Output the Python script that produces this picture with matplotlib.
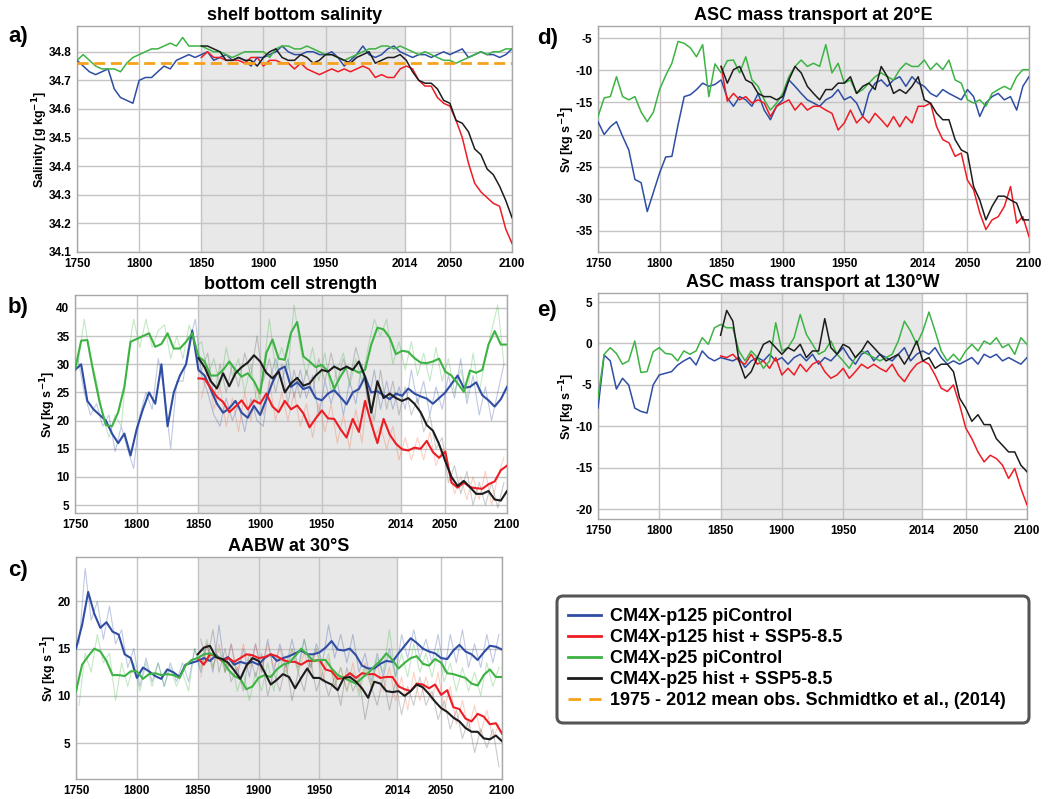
# -*- coding: utf-8 -*-
#
#   Southern Ocean diagnostics: piControl vs hist + SSP5-8.5 (CM4X).
#

import matplotlib
matplotlib.use('Agg')
import matplotlib.pyplot as plt
from matplotlib.lines import Line2D
from matplotlib.patches import FancyBboxPatch
import numpy as np


# 5-yearly samples
years_pi = np.arange(1750, 2101, 5)
years_hist = np.arange(1850, 2101, 5)
# the faint annual traces in b) and c), sampled between the 5-yr points
years_pi_raw = np.arange(1752.5, 2100, 5)
years_hist_raw = np.arange(1852.5, 2100, 5)

xticks = [1750, 1800, 1850, 1900, 1950, 2014, 2050, 2100]

# a) shelf bottom salinity [g/kg]
sal_p125_pi = [34.77, 34.75, 34.73, 34.72, 34.73, 34.74, 34.67, 34.64, 34.63, 34.62,
               34.70, 34.71, 34.71, 34.73, 34.75, 34.74, 34.77, 34.78, 34.79, 34.78,
               34.79, 34.80, 34.77, 34.78, 34.79, 34.77, 34.78, 34.77, 34.75, 34.78,
               34.78, 34.79, 34.80, 34.82, 34.80, 34.79, 34.79, 34.80, 34.80, 34.79,
               34.79, 34.80, 34.78, 34.75, 34.77, 34.79, 34.82, 34.79, 34.78, 34.79,
               34.81, 34.82, 34.80, 34.79, 34.78, 34.79, 34.79, 34.78, 34.79, 34.80,
               34.79, 34.80, 34.81, 34.78, 34.79, 34.80, 34.79, 34.79, 34.78, 34.79,
               34.81]
sal_p25_pi = [34.77, 34.79, 34.77, 34.75, 34.74, 34.74, 34.74, 34.73, 34.76, 34.78,
              34.79, 34.80, 34.81, 34.81, 34.82, 34.83, 34.82, 34.85, 34.82, 34.82,
              34.82, 34.81, 34.80, 34.80, 34.79, 34.78, 34.79, 34.80, 34.80, 34.80,
              34.80, 34.78, 34.81, 34.82, 34.82, 34.81, 34.81, 34.82, 34.81, 34.80,
              34.79, 34.79, 34.78, 34.77, 34.78, 34.79, 34.80, 34.81, 34.81, 34.82,
              34.82, 34.81, 34.82, 34.81, 34.80, 34.79, 34.80, 34.79, 34.78, 34.77,
              34.77, 34.76, 34.77, 34.78, 34.79, 34.80, 34.79, 34.80, 34.80, 34.81,
              34.81]
sal_p125_ssp = [34.78, 34.80, 34.78, 34.78, 34.77, 34.77, 34.77, 34.76, 34.78, 34.78,
                34.75, 34.77, 34.77, 34.76, 34.76, 34.74, 34.76, 34.74, 34.73, 34.72,
                34.73, 34.74, 34.73, 34.74, 34.73, 34.74, 34.75, 34.74, 34.71, 34.72,
                34.71, 34.71, 34.74, 34.75, 34.74, 34.70, 34.68, 34.68, 34.64, 34.62,
                34.61, 34.56, 34.50, 34.41, 34.34, 34.31, 34.29, 34.27, 34.26, 34.18,
                34.13]
sal_p25_ssp = [34.82, 34.82, 34.81, 34.80, 34.77, 34.77, 34.78, 34.77, 34.77, 34.75,
               34.78, 34.80, 34.81, 34.78, 34.77, 34.77, 34.79, 34.78, 34.76, 34.77,
               34.79, 34.79, 34.78, 34.77, 34.76, 34.78, 34.79, 34.80, 34.76, 34.77,
               34.78, 34.78, 34.79, 34.77, 34.73, 34.70, 34.69, 34.69, 34.67, 34.63,
               34.62, 34.56, 34.55, 34.52, 34.46, 34.44, 34.39, 34.37, 34.33, 34.28,
               34.22]
sal_obs = 34.76

# b) bottom cell strength [Sv]
cell_p125_pi = [29, 30, 23.5, 22, 21, 20, 17.7, 16, 17.7, 13.8,
                18.5, 22, 25, 23, 30, 19, 25, 28, 30, 36,
                29, 28, 25.5, 23, 21.4, 22.2, 23.5, 21.4, 20.5, 22.6,
                21, 23.8, 26.8, 29, 29.6, 26, 26.8, 25.6, 26, 24,
                23.6, 24.8, 25.4, 24.2, 22.9, 25, 25.6, 27.8, 25, 25.2,
                24.5, 23.8, 24.8, 24.4, 25.7, 24.8, 24.3, 23.9, 23, 24,
                25, 26.5, 28, 25.8, 26, 26.8, 24.5, 23.6, 22.5, 23.8,
                26]
cell_p25_pi = [29, 34.2, 34.3, 28.5, 23.2, 19.2, 19, 21.5, 26, 34,
               34.5, 35, 35.5, 33.1, 33.6, 35.5, 32.8, 32.8, 34, 35.5,
               31.4, 30.5, 28, 28, 29, 30.5, 29, 27.8, 28.4, 27,
               24.8, 32, 34.4, 31, 30.8, 35.6, 37.5, 31.4, 30.5, 29.5,
               29.9, 28.7, 25.7, 27.8, 29.5, 29.1, 28.5, 29, 33.5, 36.5,
               36.2, 34.7, 31.8, 32.4, 32.2, 31.1, 30.3, 30.2, 30.5, 31,
               28.7, 28, 26.6, 25.1, 28.9, 28.5, 29, 33.5, 35.9, 33.5,
               33.5]
cell_p125_ssp = [27.5, 27.4, 25.8, 24.2, 23.3, 21.5, 22.5, 23.6, 22, 23.6,
                 23, 24.8, 22.5, 21.5, 23.5, 22, 22.7, 21.3, 18.8, 20.4,
                 21.8, 20.4, 20.3, 18.5, 17, 20.3, 18, 23.5, 19.5, 16,
                 20.3, 17.5, 15.9, 14.9, 14.7, 15.2, 15, 16.4, 14.4, 13.4,
                 14.5, 9, 8.1, 9, 8.2, 8, 7.9, 8.7, 9.2, 11.2,
                 12]
cell_p25_ssp = [31.1, 29.5, 27, 25.7, 28.4, 26.1, 28.4, 29.5, 30.3, 31.6,
                30.5, 28.5, 27.5, 28.7, 25, 26.6, 27.6, 26.2, 26.6, 28,
                29, 28.7, 29.6, 29, 29.6, 29, 30.5, 27.8, 21.4, 27,
                24, 24.8, 24, 23.5, 24, 23, 21.5, 19.2, 18.2, 15.8,
                12.8, 10, 8.4, 9.3, 8.2, 7, 7, 7.5, 6, 5.8,
                7.5]
cell_p125_pi_raw = [31, 25, 21, 23, 19, 21, 14.5, 19, 15, 11.5,
                    21, 25, 22, 31, 25, 15, 27, 27, 34, 38,
                    28, 25, 21, 19, 24, 20, 23, 18, 24, 20,
                    19, 27, 31, 27, 31, 24, 29, 24, 28, 21,
                    27, 23, 27, 21, 27, 23, 30, 23, 29, 22,
                    27, 22, 26, 22, 29, 23, 27, 21, 26, 22,
                    28, 24, 31, 23, 28, 21, 26, 20, 25, 30]
cell_p25_pi_raw = [30, 38, 31, 27, 21, 17, 21, 19, 31, 38,
                   33, 38, 33, 36, 37, 31, 35, 31, 37, 33,
                   34, 28, 31, 26, 33, 28, 31, 25, 30, 23,
                   29, 38, 29, 33, 29, 40.5, 33, 28, 33, 27,
                   32, 25, 29, 32, 26, 31, 27, 33, 38, 35,
                   38, 30, 34, 29, 34, 28, 32, 27, 33, 27,
                   31, 25, 29, 24, 32, 25, 31, 36, 40.5, 30]
cell_p125_ssp_raw = [24, 29, 22, 26, 19, 24, 18, 25, 20, 26,
                     21, 27, 20, 25, 20, 25, 19, 23, 17, 23,
                     18, 23, 16, 21, 15, 22, 16, 26, 17, 19,
                     15, 19, 13, 17, 13, 17, 13, 18, 12, 15,
                     12, 7, 10, 6, 10, 6, 11, 5, 10, 13.5]
cell_p25_ssp_raw = [29, 32, 24, 30, 25, 30, 26, 32, 28, 35,
                    27, 31, 25, 30, 23, 29, 24, 29, 25, 31,
                    27, 32, 27, 31, 27, 33, 29, 25, 20, 29,
                    22, 27, 21, 26, 21, 24, 18, 21, 15, 17,
                    9, 12, 7, 11, 5, 9, 5, 9, 4.5, 9]

# c) AABW at 30S [Sv]
aabw_p125_pi = [15, 17.5, 21, 18.7, 17.2, 17.8, 16.8, 16.5, 14.4, 14,
                11.9, 13, 12.6, 12.1, 11.8, 12.8, 12.5, 12, 13.3, 13.5,
                13.7, 14, 13.7, 14.3, 13.8, 14.1, 13.3, 13.6, 13.4, 13.6,
                13.3, 14, 14.4, 13.7, 14, 14.2, 14.5, 14.8, 14.4, 14.4,
                14.6, 15.1, 15.8, 14.9, 14.8, 15, 14.3, 13.2, 12.9, 12.9,
                13.4, 13.7, 13.6, 14.5, 15.3, 16.1, 15.6, 15, 14.7, 14.5,
                14, 13.9, 14.8, 15.4, 14.7, 14.4, 13.8, 14.6, 15.3, 15.2,
                14.9]
aabw_p25_pi = [10.5, 13.3, 14.2, 15, 14.7, 13.7, 12.2, 12.2, 12.1, 12.6,
               12.6, 11.8, 12.3, 12.4, 12.2, 12.3, 12.2, 11.9, 13.2, 13.8,
               14, 14.4, 14.5, 14.2, 13.8, 12.8, 12.1, 11.8, 10.7, 11,
               11.9, 12.2, 12, 12.8, 13.3, 13.5, 14.2, 15, 14.4, 13.7,
               13.8, 13.8, 12.9, 12.2, 11.9, 11.6, 11.3, 11.9, 12.4, 13.1,
               13.7, 14.5, 13.8, 12.9, 13.5, 14, 14.2, 13.4, 13.2, 13.9,
               13.5, 12.4, 12.3, 12.1, 11.9, 11.3, 11.1, 12.2, 12.8, 12,
               12]
aabw_p125_ssp = [14, 13.3, 14.4, 14.2, 13.7, 14, 13.6, 14, 14.4, 14.3,
                 14, 14.1, 14.4, 14.2, 13.8, 13.6, 13.6, 13.3, 13.7, 13.7,
                 13.8, 12.8, 12.6, 11.8, 11.9, 12.4, 11.9, 12.4, 12.3, 12.3,
                 11.9, 12, 12, 11, 10.7, 10.5, 11.3, 11.2, 10.8, 11.2,
                 10.1, 10.6, 8.8, 8.6, 7.6, 7.3, 8.1, 7.8, 7, 7.1,
                 6]
aabw_p25_ssp = [14.4, 15.1, 15.3, 14.1, 13.9, 13.5, 12.7, 11.8, 13.2, 14,
                13.7, 12.5, 11.2, 11.7, 12.3, 12, 10.8, 11.9, 12.9, 11.9,
                11.9, 11.5, 11.2, 10.6, 11.9, 12, 11.5, 10.8, 9.8, 11.5,
                11.3, 10.5, 10.4, 10.5, 10, 10.5, 11.2, 10.9, 10.2, 9.4,
                8.7, 8.3, 7.7, 7.3, 6.6, 6.2, 6.2, 5.5, 5.4, 5.8,
                5.2]
aabw_p125_pi_raw = [15.5, 23.5, 18, 20, 16, 19.5, 15.5, 17, 13, 15,
                    11, 14, 11.5, 13.5, 11, 13.5, 11.5, 13.5, 11.5, 15,
                    12.5, 15.5, 12.5, 17.5, 12.5, 15.5, 12, 15, 12, 15.5,
                    12.5, 16, 12.5, 15.5, 13, 16, 13, 16, 13, 15.5,
                    13.5, 17.5, 14, 16.5, 13.5, 16.5, 12.5, 14.5, 11.5, 14.5,
                    12, 15, 12, 16.5, 14, 17, 14, 16, 13.5, 16.5,
                    12.5, 16.5, 13.5, 17, 13, 15.5, 13, 16.5, 13.5, 16.5]
aabw_p25_pi_raw = [9, 14.5, 12.5, 16.5, 13.5, 14.5, 9.5, 13.5, 11, 13.5,
                   10.5, 13.5, 11, 13.5, 11, 13, 11, 12.5, 10.5, 15,
                   13, 16, 13, 15, 12.5, 14, 10.5, 12.5, 9.5, 12.5,
                   10.5, 13.5, 10.5, 14, 12, 15, 12.5, 16, 13, 15,
                   12.5, 14.5, 11, 13, 10.5, 12.5, 10, 13, 11, 14,
                   12.5, 17, 12, 14.5, 12, 15.5, 12.5, 14.5, 12, 15,
                   11.5, 13.5, 10.5, 13, 10.5, 12.5, 10, 13.5, 11, 13]
aabw_p125_ssp_raw = [12, 15.5, 13, 15.5, 12.5, 15.5, 12.5, 15.5, 13, 15.5,
                     12.5, 15.5, 13, 15, 12.5, 15, 12.5, 14.5, 12.5, 15,
                     11.5, 14, 11, 13, 10.5, 13.5, 10.5, 13.5, 11, 13.5,
                     10.5, 13, 9.5, 12, 8.5, 12.5, 9.5, 12, 9.5, 12.5,
                     8.5, 11, 7, 9.5, 6.5, 9, 6, 8.5, 5.5, 7]
aabw_p25_ssp_raw = [16, 13.5, 17, 12.5, 15, 11.5, 13, 10.5, 14.5, 12,
                    14.5, 10, 12.5, 10.5, 13.5, 9.5, 12.5, 10.5, 14, 10.5,
                    12.5, 10, 12, 9, 13, 10.5, 12, 7.5, 11, 9,
                    12, 8.5, 11.5, 8, 11, 9, 12, 9, 10.5, 7.5,
                    9.5, 6.5, 8.5, 5.5, 7.5, 4, 6.5, 4.5, 6.5, 2.5]

# d) ASC mass transport at 20E [Sv]
asc20_p125_pi = [-18, -20, -18.8, -18, -20.3, -22.4, -27, -27.5, -32, -29,
                 -26, -23.5, -23.4, -18.5, -14.1, -13.8, -13, -12, -12.5, -12.2,
                 -11.5, -14.3, -15.6, -14.1, -14.6, -15.6, -13.6, -16.2, -17.7, -15.6,
                 -14.6, -11.5, -12.5, -13.6, -14.6, -15.1, -15.6, -14.6, -14.1, -13,
                 -14.6, -14.1, -15.1, -17.2, -13.6, -12, -11.5, -12.5, -11.5, -11,
                 -12.5, -11, -12, -12.5, -13.6, -14.1, -13, -13.6, -14.1, -14.6,
                 -13, -14.1, -17.2, -15.1, -14.1, -13.6, -14.6, -14.1, -16.2, -12.5,
                 -11]
asc20_p25_pi = [-17.2, -14.3, -14.1, -11, -14.1, -14.6, -14.1, -16.5, -18, -16.5,
                -13, -10.8, -8.9, -5.5, -5.8, -6.5, -7.9, -6, -14.1, -9,
                -10.4, -8.5, -8.4, -10.4, -7.9, -11.5, -12.5, -14.6, -16.2, -15.1,
                -13.6, -11, -9.4, -8.4, -9.4, -8.9, -9.4, -6, -10.4, -8.9,
                -12, -11.5, -13.6, -13, -12, -11, -10.4, -11, -11.5, -9.9,
                -8.9, -9.4, -9.4, -8.4, -9.9, -8.9, -9.9, -8.4, -11.5, -12,
                -14.6, -15.1, -14.6, -15.6, -13.6, -13, -12.5, -13, -11, -9.9,
                -9.9]
asc20_p125_ssp = [-9.4, -14.8, -13.6, -14.6, -14.1, -15.1, -14.6, -15.1, -17.2, -15.6,
                  -15.1, -14.6, -16.2, -15.1, -16.2, -15.6, -15.6, -16.2, -16.7, -19.3,
                  -18.2, -16.2, -18.2, -17.2, -18.2, -16.7, -17.7, -18.8, -17.2, -18.8,
                  -17.2, -18.2, -15.6, -15.6, -15.1, -18.8, -20.8, -21.3, -23.4, -22.9,
                  -27.1, -28.6, -32.2, -34.8, -33.3, -32.8, -31.2, -28.1, -33.8, -32.8,
                  -35.9]
asc20_p25_ssp = [-9.4, -12, -9.9, -9.4, -11.5, -12, -13.6, -14.1, -14.1, -14.6,
                 -14.1, -11.5, -9.4, -10.4, -12.5, -13.6, -14.6, -13, -13, -12,
                 -12, -11, -13.6, -12.5, -12, -13, -9.4, -11, -13.6, -13,
                 -13.6, -12.5, -11, -14.6, -15.1, -16.7, -17.7, -17.7, -20.8, -22.4,
                 -22.9, -28.1, -30.2, -33.3, -31.2, -29.6, -29.6, -30.2, -30.7, -33.3,
                 -33.3]

# e) ASC mass transport at 130W [Sv]
asc130_p125_pi = [-7.8, -1.4, -2.1, -5.5, -4.2, -5, -7.8, -8.2, -8.4, -5,
                  -3.8, -3.6, -3.4, -2.6, -2.1, -1.7, -2.6, -0.9, -1.7, -2.1,
                  -1.7, -1.9, -2.1, -1.7, -2.9, -2.1, -1.7, -2.1, -1.3, -2.1,
                  -1.7, -2.5, -1.7, -1.3, -2.1, -1.3, -2.5, -1.7, -2.1, -1.3,
                  -0.5, -1.7, -2.5, -1.3, -0.9, -2.1, -1.3, -1.7, -2.1, -1.3,
                  -0.5, -2.1, -1.3, -0.9, -1.3, -0.5, -1.7, -2.5, -2.1, -2.5,
                  -2.1, -1.7, -2.5, -1.3, -1.7, -1.3, -2.1, -1.7, -2.1, -2.5,
                  -1.7]
asc130_p25_pi = [-6.6, -1.3, -0.5, -1.2, -2.5, -2.1, 0.3, -3.5, -3.4, -1,
                 -0.5, -1.2, -1.3, -2.1, -0.9, -1.3, -0.9, 0.7, -0.1, 1.9,
                 2.3, 1.9, 1.9, -0.9, -2.1, -0.9, -1.7, -3, -2.1, 2.5,
                 -0.9, -0.5, 0.7, 3.5, 1.1, -0.1, -1.3, -0.9, 0.3, -1.3,
                 -2.1, -3, -1.7, -0.9, -1.3, -1.7, -2.1, -1.7, -1.3, 0.3,
                 2.7, 1.5, -0.1, 1.5, 3.8, 1.5, -0.9, -2.1, -1.3, -2.1,
                 -0.9, -0.1, -0.9, 0.3, -0.1, 0.7, -0.5, -0.1, -1.3, 0.7,
                 -0.1]
asc130_p125_ssp = [-1.5, -1.7, -1.3, -2.1, -2.5, -1.3, -2.5, -2.1, -3, -1.7,
                   -3.8, -3, -3.8, -2.5, -3.4, -2.5, -2.1, -3.4, -4.2, -3.8,
                   -3, -4.2, -3.4, -2.5, -3, -2.5, -3, -3.4, -2.5, -3.8,
                   -4.6, -3.4, -2.5, -2.1, -2.5, -3.8, -5.4, -5.8, -5, -7.4,
                   -10.2, -11.5, -13.1, -14.3, -13.5, -13.9, -14.7, -16.3, -15.1, -17.5,
                   -19.5]
asc130_p25_ssp = [1, 4, 2.7, -2.1, -4.2, -3.4, -1.7, -0.1, 0.3, -0.5,
                  -1.3, -0.5, -0.9, -0.1, -1.7, -0.9, -0.9, 3, -0.5, -1.3,
                  -0.1, -0.5, -1.7, -0.9, 0.3, -0.5, -1.3, -2.1, -1.7, -1.3,
                  -2.5, -1.3, 0.3, -2.1, -1.7, -3, -2.5, -2.5, -3.4, -6.6,
                  -7.8, -9.4, -8.6, -9.8, -9.8, -11.5, -12.3, -13.1, -13.1, -14.7,
                  -15.5]

labels = ['CM4X-p125 piControl', 'CM4X-p125 hist + SSP5-8.5',
          'CM4X-p25 piControl', 'CM4X-p25 hist + SSP5-8.5',
          '1975 - 2012 mean obs. Schmidtko et al., (2014)']

BLUE = '#2f4da3'
RED = '#ee1c24'
GREEN = '#3db343'
BLACK = '#1c1c1c'
ORANGE = '#f7a21b'

W, H = 1048.0, 799.0


def px_axes(fig, left, top, right, bottom):
    """
    Add axes given its edges in pixels of the final image.
    """
    return fig.add_axes([left / W, 1 - bottom / H,
                         (right - left) / W, (bottom - top) / H])


def style_axis(ax, title, ylabel, ylim, yticks, yfmt):
    ax.axvspan(1850, 2014, color='#e8e8e8', zorder=0, lw=0)
    ax.set_xlim(1750, 2100)
    ax.set_xticks(xticks)
    ax.set_ylim(ylim)
    ax.set_yticks(yticks)
    ax.set_yticklabels([yfmt.format(v) for v in yticks])
    ax.grid(True, color='#c4c4c4', lw=1.0)
    ax.set_axisbelow(True)
    ax.tick_params(length=0, labelsize=8.5, pad=4)
    for lab in ax.get_xticklabels() + ax.get_yticklabels():
        lab.set_fontweight('bold')
    for sp in ax.spines.values():
        sp.set_color('#a8a8a8')
        sp.set_linewidth(1.0)
    ax.set_title(title, fontsize=13, fontweight='bold', pad=4)
    ax.set_ylabel(ylabel, fontsize=9, fontweight='bold', labelpad=-1)


def plot_four(ax, pi125, ssp125, pi25, ssp25, lw):
    ax.plot(years_pi, pi125, color=BLUE, lw=lw, zorder=3)
    ax.plot(years_hist, ssp125, color=RED, lw=lw, zorder=3)
    ax.plot(years_pi, pi25, color=GREEN, lw=lw, zorder=3)
    ax.plot(years_hist, ssp25, color=BLACK, lw=lw, zorder=4)


def plot_raw(ax, pi125, ssp125, pi25, ssp25):
    kw = dict(lw=0.8, alpha=0.3, zorder=2)
    ax.plot(years_pi_raw, pi125, color=BLUE, **kw)
    ax.plot(years_hist_raw, ssp125, color='#f26a3a', **kw)
    ax.plot(years_pi_raw, pi25, color=GREEN, **kw)
    ax.plot(years_hist_raw, ssp25, color='#555555', **kw)


def main():
    plt.rcParams['font.family'] = ['Liberation Sans', 'DejaVu Sans']
    plt.rcParams['mathtext.default'] = 'bf'

    fig = plt.figure(figsize=(W / 100, H / 100), dpi=100)
    sv = r'Sv [kg s$^{-1}$]'

    ax = px_axes(fig, 77, 26, 512, 252)
    style_axis(ax, 'shelf bottom salinity', r'Salinity [g kg$^{-1}$]',
               (34.1, 34.89), [34.1, 34.2, 34.3, 34.4, 34.5, 34.6, 34.7, 34.8],
               '{:.1f}')
    plot_four(ax, sal_p125_pi, sal_p125_ssp, sal_p25_pi, sal_p25_ssp, 1.1)
    ax.axhline(sal_obs, color=ORANGE, lw=2.0, ls=(0, (4, 2)), zorder=5)

    ax = px_axes(fig, 75, 295, 507, 513)
    style_axis(ax, 'bottom cell strength', sv, (3.6, 42.3),
               [5, 10, 15, 20, 25, 30, 35, 40], '{:d}')
    plot_raw(ax, cell_p125_pi_raw, cell_p125_ssp_raw, cell_p25_pi_raw,
             cell_p25_ssp_raw)
    plot_four(ax, cell_p125_pi, cell_p125_ssp, cell_p25_pi, cell_p25_ssp, 1.5)

    ax = px_axes(fig, 76, 557, 502, 779)
    style_axis(ax, 'AABW at 30°S', sv, (1.2, 24.7), [5, 10, 15, 20], '{:d}')
    plot_raw(ax, aabw_p125_pi_raw, aabw_p125_ssp_raw, aabw_p25_pi_raw,
             aabw_p25_ssp_raw)
    plot_four(ax, aabw_p125_pi, aabw_p125_ssp, aabw_p25_pi, aabw_p25_ssp, 1.5)

    ax = px_axes(fig, 598, 26, 1029, 252)
    style_axis(ax, 'ASC mass transport at 20°E', sv, (-38.3, -3.1),
               [-35, -30, -25, -20, -15, -10, -5], '{:d}')
    plot_four(ax, asc20_p125_pi, asc20_p125_ssp, asc20_p25_pi, asc20_p25_ssp, 1.1)

    ax = px_axes(fig, 598, 293, 1027, 519)
    style_axis(ax, 'ASC mass transport at 130°W', sv, (-21.2, 6.1),
               [-20, -15, -10, -5, 0, 5], '{:d}')
    plot_four(ax, asc130_p125_pi, asc130_p125_ssp, asc130_p25_pi,
              asc130_p25_ssp, 1.1)

    # panel letters
    for letter, x, y in [('a)', 8, 42), ('b)', 8, 313), ('c)', 8, 576),
                         ('d)', 537, 44), ('e)', 537, 316)]:
        fig.text(x / W, 1 - y / H, letter, fontsize=16, fontweight='bold')

    # legend with its own rounded frame
    box = FancyBboxPatch((557 / W, 1 - 723 / H), (1029 - 557) / W,
                         (723 - 596) / H,
                         boxstyle='round,pad=0,rounding_size=0.006',
                         mutation_aspect=W / H,
                         transform=fig.transFigure, facecolor='white',
                         edgecolor='#555555', lw=2.2, zorder=10)
    fig.add_artist(box)

    handles = [Line2D([], [], color=BLUE, lw=2.0),
               Line2D([], [], color=RED, lw=2.0),
               Line2D([], [], color=GREEN, lw=2.0),
               Line2D([], [], color=BLACK, lw=2.0),
               Line2D([], [], color=ORANGE, lw=2.0, ls=(0, (4.5, 3)))]
    leg = fig.legend(handles, labels, loc='upper left',
                     bbox_to_anchor=(568 / W, 1 - 608 / H),
                     frameon=False, fontsize=13, handlelength=1.85,
                     handletextpad=0.5, labelspacing=0.22, borderpad=0,
                     borderaxespad=0)
    leg.set_zorder(11)
    for t in leg.get_texts():
        t.set_fontweight('bold')

    fig.savefig('out.png', dpi=100)
    plt.close(fig)


if __name__ == '__main__':
    main()
